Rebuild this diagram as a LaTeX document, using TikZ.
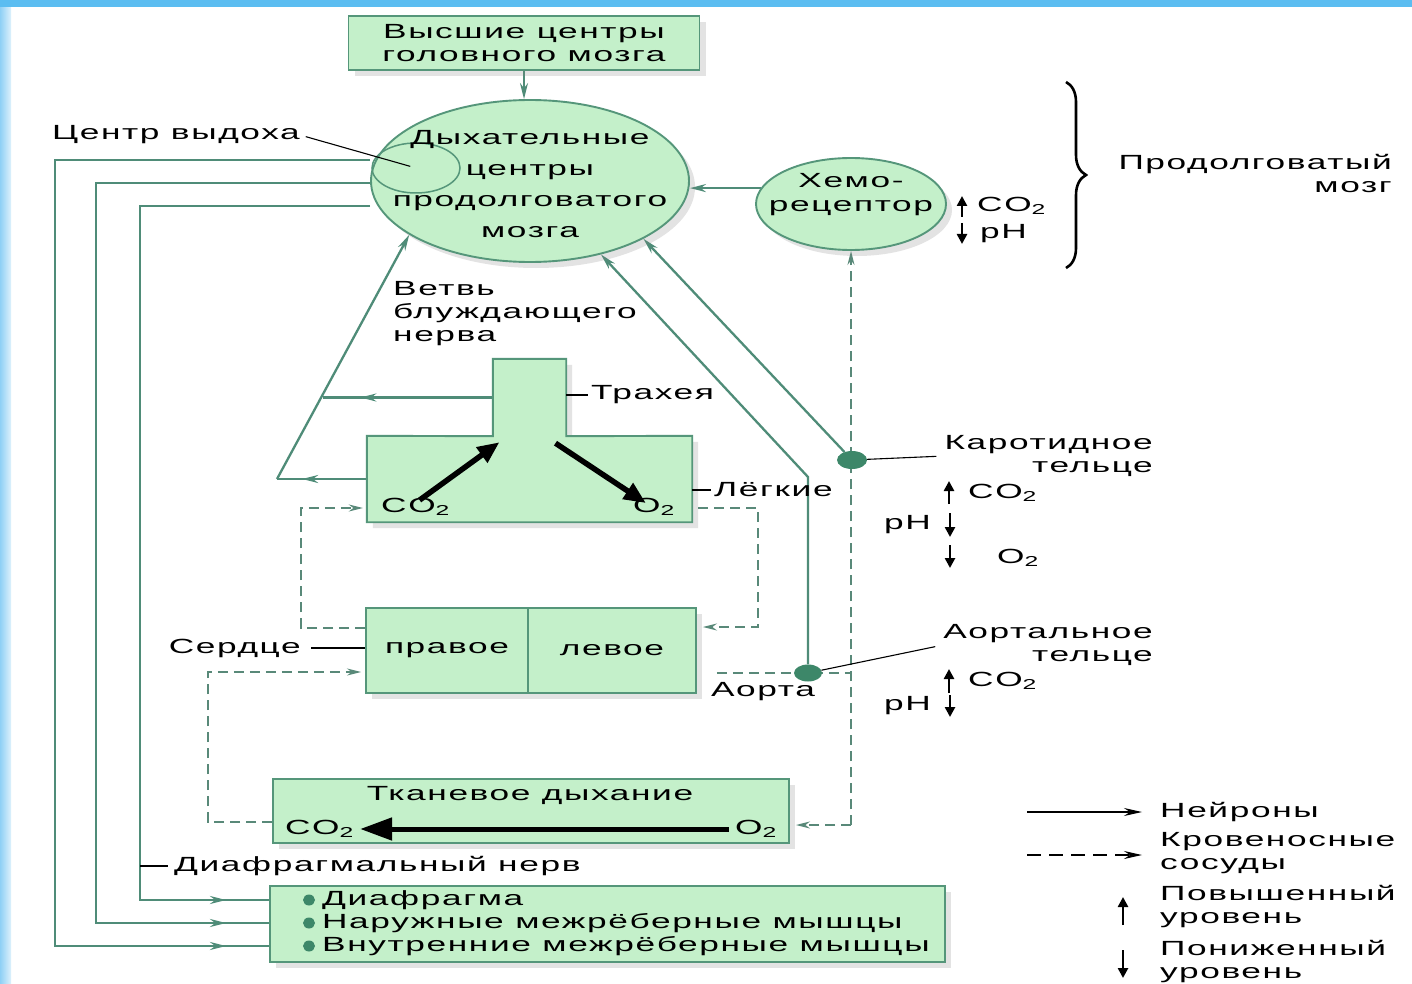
\documentclass[tikz,border=0pt]{standalone}
\usepackage{fontspec}
\setmainfont{Liberation Sans}
\newfontfamily\wf[FakeStretch=1.72,LetterSpace=7.9]{Liberation Sans}
\usetikzlibrary{arrows.meta,shadows,shapes.geometric,decorations.pathreplacing,calc}
\definecolor{boxfill}{HTML}{C4F0CA}
\definecolor{boxline}{HTML}{55967A}
\definecolor{nerve}{HTML}{4F8C78}
\definecolor{dotc}{HTML}{3D8769}
\definecolor{topblue}{HTML}{5BBDF1}
\definecolor{sidea}{HTML}{8FD0F5}
\definecolor{sideb}{HTML}{DDF1FC}
\pgfdeclarelayer{back}
\pgfdeclarelayer{bg}
\pgfsetlayers{back,bg,main}
\tikzset{
  txt/.style={font=\wf\fontsize{20.5}{23}\selectfont, inner sep=0pt, text=black},
  gbox/.style={draw=boxline, fill=boxfill, line width=1.9pt,
    drop shadow={shadow xshift=6pt, shadow yshift=-6pt, opacity=0.22}},
  gell/.style={gbox, ellipse, inner sep=0pt},
  nerve/.style={draw=nerve, line width=2.3pt},
  ntip/.style={-{Stealth[length=16pt,width=8pt]}},
  btip/.style={-{Stealth[length=14pt,width=7pt]}},
  blood/.style={draw=nerve!80!gray, line width=1.6pt, dash pattern=on 10pt off 6pt},
  gdot/.style={ellipse, fill=dotc, inner sep=0pt},
  thinline/.style={draw=black, line width=1.1pt},
  lvl/.style={line width=2.6pt, -{Triangle[length=10pt,width=10pt]}},
  gas/.style={line width=5.5pt, -{Triangle[length=22pt,width=18pt]}},
}
\begin{document}
\begin{tikzpicture}[x=1pt,y=-1pt]
\useasboundingbox (0,0) rectangle (1412,984);
\begin{pgfonlayer}{back}
\fill[white] (0,0) rectangle (1412,984);
\shade[left color=sidea, right color=sideb] (0,0) rectangle (11,984);
\fill[topblue] (0,0) rectangle (1412,7);
\end{pgfonlayer}

% ---------- nodes ----------
\node[txt, gbox, minimum width=351pt, minimum height=54pt, align=center] (hc) at (524,43) {Высшие центры\\головного мозга};

\node[gell, minimum width=318pt, minimum height=162pt] (rc) at (530,181) {};
\node[draw=boxline, line width=1.5pt, ellipse, minimum width=88pt, minimum height=50pt, inner sep=0pt] (ex) at (416,168) {};
\node[txt, align=center, font=\wf\fontsize{20.5}{31}\selectfont] (rct) at (530,184) {Дыхательные\\центры\\продолговатого\\мозга};

\node[gell, minimum width=190pt, minimum height=92pt] (ch) at (851,204) {};
\node[txt, align=center, font=\wf\fontsize{20.5}{24}\selectfont] (cht) at (851,195) {Хемо-\\рецептор};

% lungs and trachea
\node[minimum width=325pt, minimum height=86pt, inner sep=0pt] (lg) at (529.5,479) {};
\node[minimum width=73pt, minimum height=77pt, inner sep=0pt] (tr) at (529.5,397.5) {};
\path[gbox] (lg.north west) -- (tr.south west) -- (tr.north west) -- (tr.north east) -- (tr.south east) -- (lg.north east) -- (lg.south east) -- (lg.south west) -- cycle;
\node[txt, anchor=west] (lco) at (381,507) {CO\textsubscript{2}};
\node[txt, anchor=east] (lo2) at (675,507) {O\textsubscript{2}};
\draw[gas] ([xshift=4pt,yshift=-2pt]lco.north) -- ([xshift=-30pt,yshift=-6pt]tr.south);
\draw[gas] ([xshift=26pt,yshift=-7pt]tr.south) -- ([xshift=-8pt,yshift=-5pt]lo2.north);

% heart
\node[txt, gbox, minimum width=162pt, minimum height=85pt] (hr) at (447,650.5) {правое};
\node[txt, gbox, minimum width=168pt, minimum height=85pt] (hl) at (612,650.5) {левое};

% tissue respiration
\node[gbox, minimum width=516pt, minimum height=64pt] (ts) at (531,811) {};
\node[txt] (tst) at (530,795) {Тканевое дыхание};
\node[txt, anchor=west] (tco) at (285,829) {CO\textsubscript{2}};
\node[txt, anchor=east] (to2) at (777,829) {O\textsubscript{2}};
\draw[line width=5pt, -{Triangle[length=32pt,width=22pt]}] ([xshift=-6pt]to2.west) -- ([xshift=6pt]tco.east);

% muscles
\node[gbox, minimum width=675pt, minimum height=76pt] (mb) at (607.5,924) {};
\node[gdot, minimum width=12pt, minimum height=11pt] (d1) at (309,900) {};
\node[gdot, minimum width=12pt, minimum height=11pt] (d2) at (309,923) {};
\node[gdot, minimum width=12pt, minimum height=11pt] (d3) at (309,946) {};
\node[txt, anchor=west] (m1) at (322,900) {Диафрагма};
\node[txt, anchor=west] (m2) at (322,923) {Наружные межрёберные мышцы};
\node[txt, anchor=west] (m3) at (322,946) {Внутренние межрёберные мышцы};

% receptor dots
\node[gdot, minimum width=30pt, minimum height=18pt] (cb) at (852,460) {};
\node[gdot, minimum width=28pt, minimum height=17pt] (ab) at (808,673) {};

% labels
\node[txt, anchor=east] (cv) at (300,135) {Центр выдоха};
\node[txt, anchor=west, align=left] (vg) at (393,314) {Ветвь\\блуждающего\\нерва};
\node[txt, anchor=west] (trl) at (591,395) {Трахея};
\node[txt, anchor=west] (lgl) at (714,490) {Лёгкие};
\node[txt, anchor=east] (ser) at (301,648) {Сердце};
\node[txt] (aor) at (763,692) {Аорта};
\node[txt, anchor=west] (dn) at (174,866) {Диафрагмальный нерв};
\node[txt, anchor=east, align=right] (kt) at (1153,456) {Каротидное\\тельце};
\node[txt, anchor=east, align=right] (at) at (1153,645) {Аортальное\\тельце};
\node[txt, anchor=east, align=right] (pm) at (1392,173) {Продолговатый\\мозг};

% gas levels
\node[txt, anchor=west] (c1) at (977,206) {CO\textsubscript{2}};
\node[txt, anchor=west] (p1) at (980,234) {pH};
\node[txt, anchor=west] (c2) at (968,493) {CO\textsubscript{2}};
\node[txt, anchor=east] (p2) at (931,525) {pH};
\node[txt, anchor=west] (o2c) at (997,558) {O\textsubscript{2}};
\node[txt, anchor=west] (c3) at (968,681) {CO\textsubscript{2}};
\node[txt, anchor=east] (p3) at (931,706) {pH};
\draw[lvl] (962,217) -- (962,196);
\draw[lvl] (962,223) -- (962,244);
\draw[lvl] (949,504) -- (949,481);
\draw[lvl] (950,513) -- (950,537);
\draw[lvl] (950,545) -- (950,568);
\draw[lvl] (949,693) -- (949,669);
\draw[lvl] (950,695) -- (950,717);

% brace
\draw[line width=2.6pt, decorate, decoration={brace, amplitude=20pt}] (1066,82) -- (1066,268);

% legend
\node[txt, anchor=west] (ln) at (1160,812) {Нейроны};
\node[txt, anchor=west, align=left] (lk) at (1160,853) {Кровеносные\\сосуды};
\node[txt, anchor=west, align=left] (lp) at (1160,907) {Повышенный\\уровень};
\node[txt, anchor=west, align=left] (lq) at (1160,962) {Пониженный\\уровень};
\draw[line width=1.3pt, -{Stealth[length=18pt,width=8pt]}] (1027,812) -- (1142,812);
\draw[line width=1.3pt, dash pattern=on 14pt off 8pt, -{Stealth[length=18pt,width=8pt]}] (1027,855) -- (1142,855);
\draw[lvl] (1123,925) -- (1123,897);
\draw[lvl] (1123,950) -- (1123,978);

% thin label lines
\draw[thinline, shorten <=6pt, shorten >=6pt] (cv.east) -- (ex.center);
\draw[thinline, shorten >=3pt] (tr.east |- trl.west) -- (trl.west);
\draw[thinline, shorten >=3pt] (lg.east |- lgl.west) -- (lgl.west);
\draw[thinline, shorten <=10pt] (ser.east) -- (hr.west |- ser.east);
\draw[thinline, shorten >=8pt] (cb) -- (kt.west);
\draw[thinline, shorten >=8pt] (ab) -- (at.west);

% ---------- connectors (background) ----------
\begin{pgfonlayer}{bg}
\coordinate (dnp) at (140,866);
\coordinate (vb) at (277,480);
\coordinate (vm) at (323,395);
\coordinate (bv) at (ch.south |- 0,825);

\draw[nerve, ntip] (hc.south) -- (hc.south |- rc.north);
\draw[nerve, ntip] (ch.170) -- (ch.170 -| rc.east);

\draw[nerve] (rc.west |- 0,160) -| (55,946) -- (d3);
\draw[nerve] (rc.west |- 0,183) -| (96,923) -- (d2);
\draw[nerve] (rc.west |- 0,206) -| (140,900) -- (d1);
\draw[nerve, ntip] (180,946) -- (226,946);
\draw[nerve, ntip] (180,923) -- (226,923);
\draw[nerve, ntip] (184,900) -- (226,900);
\draw[thinline, shorten >=6pt] (dnp) -- (dn.west);

\draw[nerve] (tr.west) -- (tr.west -| vm);
\draw[nerve, ntip] (tr.west) -- ($(tr.west)!0.78!(tr.west -| vm)$);
\draw[nerve] (lg.west) -- (lg.west -| vb);
\draw[nerve, ntip] (lg.west) -- ($(lg.west)!0.72!(lg.west -| vb)$);
\draw[nerve, ntip] (lg.west -| vb) -- (rc.204);

\draw[nerve, ntip] (cb) -- (rc.333);
\draw[nerve, ntip] (ab) -- (ab |- 0,477) -- (rc.314);

\draw[blood, btip, shorten >=4pt] (hr.west |- 0,628) -- (301,628) -- (301,508) -- (lg.west |- 0,508);
\draw[blood, btip, shorten <=6pt, shorten >=6pt] (lg.east |- 0,508) -- (758,508) -- (758,627) -- (hl.east |- 0,627);
\draw[blood, shorten <=20pt] (hl.east |- 0,673) -- (bv |- 0,673);
\draw[blood, btip] (bv) -- (ch.south);
\draw[blood, btip, shorten >=6pt] (bv) -- (ts.east |- bv);
\draw[blood, btip, shorten >=4pt] (ts.west |- 0,822) -- (208,822) -- (208,672) -- (hr.west |- 0,672);
\end{pgfonlayer}
\end{tikzpicture}
\end{document}
